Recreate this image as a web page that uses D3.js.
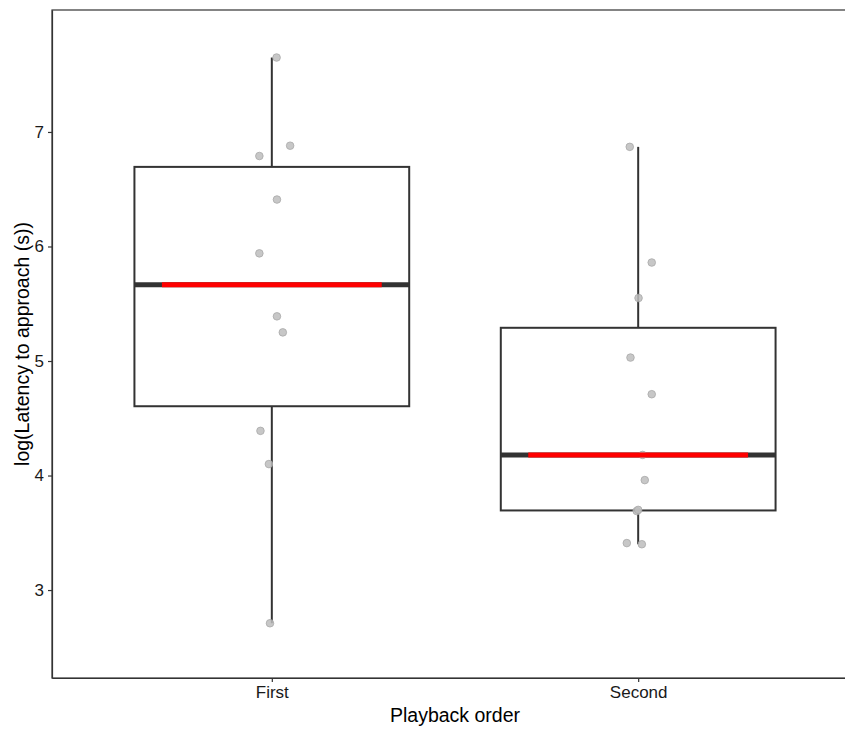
<!DOCTYPE html>
<html>
<head>
<meta charset="utf-8">
<script src="https://cdn.jsdelivr.net/npm/d3@7"></script>
<style>
  html, body { margin: 0; padding: 0; background: #fff; }
  svg { display: block; font-family: "Liberation Sans", Arial, sans-serif; }
</style>
</head>
<body>
<svg id="chart" width="845" height="729"></svg>
<script>
// Playback order groups
const categories = ["First", "Second"];

// log(latency to approach) per trial, by group
const firstValues  = [7.65, 6.79, 6.88, 6.41, 5.94, 5.39, 5.25, 4.39, 4.10, 2.71];
const secondValues = [6.87, 5.86, 5.55, 5.03, 4.71, 4.18, 3.96, 3.69, 3.70, 3.41, 3.40];

// horizontal jitter of each point (category units)
const firstJitter  = [0.013, -0.034, 0.050, 0.014, -0.034, 0.014, 0.030, -0.031, -0.008, -0.005];
const secondJitter = [-0.023, 0.037, 0.001, -0.021, 0.037, 0.012, 0.018, -0.004, 0.000, -0.031, 0.010];

const yTicks = [3, 4, 5, 6, 7];

const groups = [
  { name: categories[0], values: firstValues,  jitter: firstJitter },
  { name: categories[1], values: secondValues, jitter: secondJitter }
];

const svg = d3.select("#chart");
const panel = { left: 52, right: 858, top: 10, bottom: 678 };

// discrete axis with 0.6 unit expansion on each side
const x = d3.scaleLinear()
  .domain([0.4, 2.6])
  .range([panel.left, panel.right]);
const y = d3.scaleLinear()
  .domain([2.232, 8.065])
  .range([panel.bottom, panel.top]);

const ink = "#333333";
const boxHalf = 0.375;
const redHalf = 0.30;

// box statistics
groups.forEach((g, i) => {
  const s = g.values.slice().sort(d3.ascending);
  const q1 = d3.quantile(s, 0.25), med = d3.quantile(s, 0.5), q3 = d3.quantile(s, 0.75);
  const iqr = q3 - q1;
  const lo = d3.min(s.filter(v => v >= q1 - 1.5 * iqr));
  const hi = d3.max(s.filter(v => v <= q3 + 1.5 * iqr));
  Object.assign(g, { pos: i + 1, q1, med, q3, lo, hi });
});

const plot = svg.append("g");

// whiskers
plot.selectAll("line.whisker-up").data(groups).join("line")
  .attr("x1", d => x(d.pos)).attr("x2", d => x(d.pos))
  .attr("y1", d => y(d.q3)).attr("y2", d => y(d.hi))
  .attr("stroke", ink).attr("stroke-width", 2);
plot.selectAll("line.whisker-down").data(groups).join("line")
  .attr("x1", d => x(d.pos)).attr("x2", d => x(d.pos))
  .attr("y1", d => y(d.q1)).attr("y2", d => y(d.lo))
  .attr("stroke", ink).attr("stroke-width", 2);

// boxes
plot.selectAll("rect.box").data(groups).join("rect")
  .attr("x", d => x(d.pos - boxHalf))
  .attr("width", d => x(d.pos + boxHalf) - x(d.pos - boxHalf))
  .attr("y", d => y(d.q3))
  .attr("height", d => y(d.q1) - y(d.q3))
  .attr("fill", "#fff").attr("stroke", ink).attr("stroke-width", 2);

// median bars
plot.selectAll("line.median").data(groups).join("line")
  .attr("x1", d => x(d.pos - boxHalf)).attr("x2", d => x(d.pos + boxHalf))
  .attr("y1", d => y(d.med)).attr("y2", d => y(d.med))
  .attr("stroke", ink).attr("stroke-width", 5);

// jittered raw points
const pts = groups.flatMap(g => g.values.map((v, k) => ({ pos: g.pos + g.jitter[k], v })));
plot.selectAll("circle.pt").data(pts).join("circle")
  .attr("cx", d => x(d.pos)).attr("cy", d => y(d.v)).attr("r", 3.8)
  .attr("fill", "#bdbdbd").attr("fill-opacity", 0.85)
  .attr("stroke", "#a8a8a8").attr("stroke-width", 0.8);

// highlighted median segment
plot.selectAll("line.median-red").data(groups).join("line")
  .attr("x1", d => x(d.pos - redHalf)).attr("x2", d => x(d.pos + redHalf))
  .attr("y1", d => y(d.med)).attr("y2", d => y(d.med))
  .attr("stroke", "#ff0000").attr("stroke-width", 5);

// panel border
svg.append("rect")
  .attr("x", panel.left).attr("y", panel.top)
  .attr("width", panel.right - panel.left).attr("height", panel.bottom - panel.top)
  .attr("fill", "none").attr("stroke", ink).attr("stroke-width", 1.2);

// y axis
const yAxis = svg.append("g")
  .attr("transform", `translate(${panel.left},0)`)
  .call(d3.axisLeft(y).tickValues(yTicks).tickSize(4).tickSizeOuter(0).tickPadding(4)
    .tickFormat(d3.format("d")));
yAxis.select(".domain").attr("stroke", ink).attr("stroke-width", 1.2);
yAxis.selectAll(".tick line").attr("stroke", ink).attr("stroke-width", 1.2);
yAxis.selectAll(".tick text").attr("fill", "#1a1a1a").style("font-size", "17px")
  .style("font-family", "Liberation Sans, Arial, sans-serif");

// x axis
const xAxis = svg.append("g")
  .attr("transform", `translate(0,${panel.bottom})`)
  .call(d3.axisBottom(x).tickValues([1, 2]).tickSize(4).tickSizeOuter(0).tickPadding(4)
    .tickFormat(d => categories[d - 1]));
xAxis.select(".domain").attr("stroke", ink).attr("stroke-width", 1.2);
xAxis.selectAll(".tick line").attr("stroke", ink).attr("stroke-width", 1.2);
xAxis.selectAll(".tick text").attr("fill", "#1a1a1a").style("font-size", "17px")
  .style("font-family", "Liberation Sans, Arial, sans-serif");

// axis titles
svg.append("text")
  .attr("x", (panel.left + panel.right) / 2).attr("y", 722)
  .attr("text-anchor", "middle").attr("fill", "#000")
  .style("font-size", "19.5px").text("Playback order");

svg.append("text")
  .attr("transform", `translate(29,${(panel.top + panel.bottom) / 2}) rotate(-90)`)
  .attr("text-anchor", "middle").attr("fill", "#000")
  .style("font-size", "19.5px").text("log(Latency to approach (s))");
</script>
</body>
</html>
